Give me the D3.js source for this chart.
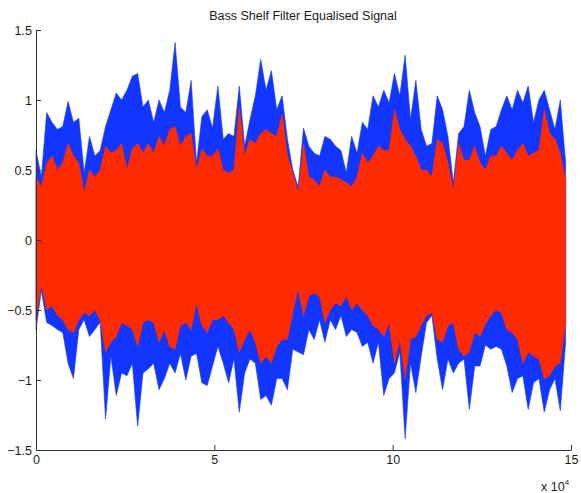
<!DOCTYPE html>
<html>
<head>
<meta charset="utf-8">
<script src="https://cdn.jsdelivr.net/npm/d3@7"></script>
<style>
  html, body { margin: 0; padding: 0; background: #fff; }
  svg { display: block; }
  text { font-family: "Liberation Sans", Arial, Helvetica, sans-serif; fill: #1a1a1a; }
</style>
</head>
<body>
<svg id="chart" width="581" height="493"></svg>
<script>
// Samples between envelope points
const sampleStep = 1500;

// Envelope of the original signal (blue): upper and lower extremes per block
const blueMax = [0.64,0.45,0.91,0.84,0.79,0.81,0.99,0.84,0.87,0.48,0.74,0.60,0.64,0.81,0.93,1.05,1.00,1.07,1.17,1.19,
  0.95,1.00,0.84,1.00,0.91,1.07,1.41,0.95,0.91,1.14,0.55,0.88,0.93,0.80,1.10,0.72,0.76,0.74,1.10,0.67,
  0.86,1.03,1.29,1.07,1.21,0.93,1.03,0.72,0.50,0.38,0.80,0.67,0.62,0.60,0.74,0.72,0.67,0.64,0.48,0.74,
  0.62,0.84,0.79,1.03,0.95,1.07,0.98,1.19,1.03,1.32,0.86,1.14,0.79,0.67,0.69,1.03,0.93,0.74,0.41,0.76,
  0.81,1.07,0.91,0.81,0.60,0.79,0.81,0.93,1.03,0.93,1.07,0.98,1.10,0.84,1.00,1.07,0.93,0.79,1.00,0.55];
const blueMin = [-0.64,-0.36,-0.59,-0.61,-0.64,-0.66,-0.88,-0.99,-0.64,-0.57,-0.69,-0.64,-0.59,-1.28,-0.83,-1.11,-0.95,-0.97,-0.88,-1.33,
  -0.95,-0.92,-0.88,-1.07,-0.99,-0.88,-0.95,-0.81,-1.00,-0.83,-0.81,-1.02,-1.04,-0.90,-0.76,-0.88,-1.02,-0.85,-1.23,-0.95,
  -0.85,-0.88,-1.14,-1.11,-1.18,-0.99,-0.99,-1.07,-0.78,-0.80,-0.82,-0.64,-0.71,-0.57,-0.73,-0.57,-0.64,-0.54,-0.69,-0.64,
  -0.66,-0.76,-0.73,-0.88,-0.73,-1.11,-0.99,-0.95,-0.80,-1.42,-0.88,-1.09,-0.83,-0.59,-0.54,-0.85,-1.07,-0.85,-0.95,-0.88,
  -0.85,-1.21,-0.90,-0.90,-0.75,-0.78,-0.76,-0.78,-0.90,-1.09,-0.99,-0.97,-1.21,-1.02,-0.99,-1.23,-1.07,-0.99,-1.22,-0.73];

// Envelope of the bass-shelf equalised signal (red)
const redMax = [0.45,0.38,0.55,0.60,0.50,0.55,0.69,0.60,0.55,0.34,0.50,0.45,0.50,0.67,0.62,0.64,0.69,0.50,0.65,0.69,
  0.62,0.69,0.62,0.74,0.67,0.79,0.81,0.67,0.74,0.76,0.50,0.65,0.60,0.60,0.65,0.50,0.48,0.50,0.95,0.60,
  0.72,0.69,0.76,0.79,0.76,0.74,0.90,0.60,0.48,0.34,0.69,0.45,0.43,0.38,0.50,0.45,0.45,0.43,0.41,0.38,
  0.45,0.62,0.55,0.60,0.67,0.64,0.64,0.93,0.79,0.72,0.67,0.60,0.50,0.50,0.45,0.72,0.69,0.55,0.36,0.69,
  0.57,0.57,0.67,0.55,0.50,0.60,0.60,0.67,0.62,0.57,0.64,0.69,0.60,0.62,0.64,0.93,0.76,0.72,0.62,0.43];
const redMin = [-0.57,-0.32,-0.50,-0.47,-0.54,-0.57,-0.64,-0.66,-0.57,-0.52,-0.54,-0.50,-0.57,-0.80,-0.73,-0.69,-0.59,-0.61,-0.64,-0.76,
  -0.59,-0.57,-0.59,-0.73,-0.64,-0.76,-0.78,-0.61,-0.59,-0.64,-0.45,-0.61,-0.66,-0.57,-0.57,-0.54,-0.59,-0.64,-0.80,-0.71,
  -0.64,-0.73,-0.88,-0.83,-0.88,-0.76,-0.71,-0.71,-0.52,-0.35,-0.54,-0.40,-0.38,-0.40,-0.59,-0.50,-0.45,-0.47,-0.40,-0.50,
  -0.45,-0.50,-0.54,-0.61,-0.64,-0.69,-0.59,-0.88,-0.71,-0.99,-0.71,-0.69,-0.61,-0.54,-0.52,-0.71,-0.73,-0.61,-0.59,-0.78,
  -0.83,-0.80,-0.66,-0.69,-0.60,-0.54,-0.50,-0.52,-0.64,-0.66,-0.71,-0.88,-0.80,-0.83,-0.85,-0.99,-0.97,-0.90,-0.88,-0.59];

const yTicks = [-1.5, -1, -0.5, 0, 0.5, 1, 1.5];
const xTicks = [0, 50000, 100000, 150000];
const titleText = "Bass Shelf Filter Equalised Signal";

const fontSize = 12.5;
const svg = d3.select("#chart");
const x = d3.scaleLinear().domain([0, 150000]).range([36, 571]);
const y = d3.scaleLinear().domain([-1.5, 1.5]).range([450, 30]);

function envelope(maxArr, minArr) {
  return maxArr.map((v, i) => ({ s: i * sampleStep, hi: v, lo: minArr[i] }));
}

const area = d3.area()
  .x(d => x(d.s))
  .y0(d => y(d.lo))
  .y1(d => y(d.hi))
  .curve(d3.curveLinear);

const series = [
  { data: envelope(blueMax, blueMin), color: "#1236ff" },
  { data: envelope(redMax, redMin), color: "#ff2a00" }
];

svg.append("g").selectAll("path")
  .data(series)
  .join("path")
  .attr("d", d => area(d.data))
  .attr("fill", d => d.color)
  .attr("stroke", d => d.color)
  .attr("stroke-width", 0.6)
  .attr("stroke-linejoin", "miter");

// Axes with inward ticks
const yAxis = d3.axisLeft(y)
  .tickValues(yTicks)
  .tickFormat(d => String(d).replace("-", "\u2212"))
  .tickSize(-5)
  .tickSizeOuter(0)
  .tickPadding(4);
const xAxis = d3.axisBottom(x)
  .tickValues(xTicks)
  .tickFormat(d => d / 1e4)
  .tickSize(-5)
  .tickSizeOuter(0)
  .tickPadding(5);

const gy = svg.append("g").attr("transform", `translate(${x(0)},0)`).call(yAxis);
const gx = svg.append("g").attr("transform", `translate(0,${y(-1.5)})`).call(xAxis);
[gx, gy].forEach(g => {
  g.select(".domain").attr("stroke", "#333");
  g.selectAll(".tick line").attr("stroke", "#333");
  g.selectAll("text").attr("font-size", fontSize).attr("fill", "#1a1a1a")
    .attr("font-family", "'Liberation Sans', Arial, Helvetica, sans-serif");
});

// Title
svg.append("text")
  .attr("x", 303).attr("y", 20)
  .attr("text-anchor", "middle")
  .attr("font-size", fontSize)
  .text(titleText);

// Exponent label for the x axis
const expo = svg.append("text")
  .attr("x", 541).attr("y", 491)
  .attr("font-size", fontSize);
expo.append("tspan").text("x 10");
expo.append("tspan").attr("dy", -6).attr("font-size", 8).text("4");
</script>
</body>
</html>
